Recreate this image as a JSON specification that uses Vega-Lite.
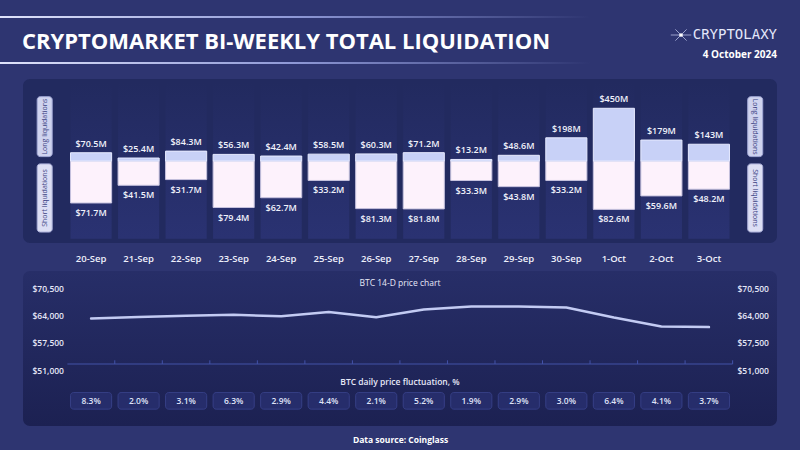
{
  "$schema": "https://vega.github.io/schema/vega-lite/v6.json",
  "background": "#2e3571",
  "padding": {"left": 0, "top": 0, "right": 30, "bottom": 14},
  "spacing": 8,
  "config": {"view": {"stroke": null}, "font": "Open Sans", "axis": {"grid": false}},
  "datasets": {
    "days": [
      {"date": "20-Sep", "long": 70500000, "short": 71700000, "price": 62740, "fluct": 0.083},
      {"date": "21-Sep", "long": 25400000, "short": 41500000, "price": 63140, "fluct": 0.020},
      {"date": "22-Sep", "long": 84300000, "short": 31700000, "price": 63450, "fluct": 0.031},
      {"date": "23-Sep", "long": 56300000, "short": 79400000, "price": 63690, "fluct": 0.063},
      {"date": "24-Sep", "long": 42400000, "short": 62700000, "price": 63310, "fluct": 0.029},
      {"date": "25-Sep", "long": 58500000, "short": 33200000, "price": 64400, "fluct": 0.044},
      {"date": "26-Sep", "long": 60300000, "short": 81300000, "price": 63070, "fluct": 0.021},
      {"date": "27-Sep", "long": 71200000, "short": 81800000, "price": 65050, "fluct": 0.052},
      {"date": "28-Sep", "long": 13200000, "short": 33300000, "price": 65830, "fluct": 0.019},
      {"date": "29-Sep", "long": 48600000, "short": 43800000, "price": 65830, "fluct": 0.029},
      {"date": "30-Sep", "long": 198000000, "short": 33200000, "price": 65600, "fluct": 0.030},
      {"date": "1-Oct", "long": 450000000, "short": 82600000, "price": 63000, "fluct": 0.064},
      {"date": "2-Oct", "long": 179000000, "short": 59600000, "price": 60690, "fluct": 0.041},
      {"date": "3-Oct", "long": 143000000, "short": 48200000, "price": 60520, "fluct": 0.037}
    ]
  },
  "data": {"name": "days"},
  "vconcat": [
    {
      "width": 754,
      "height": 71,
      "data": {"values": [{}]},
      "layer": [
        {
          "mark": {"type": "rect", "fill": {"gradient": "linear", "x1": 0, "y1": 0, "x2": 1, "y2": 0, "stops": [{"offset": 0, "color": "#dfe3fb"}, {"offset": 0.5, "color": "#8e98d6"}, {"offset": 1, "color": "#2e3571"}]}},
          "encoding": {
            "x": {"datum": -0.0305, "type": "quantitative", "scale": {"domain": [0, 1]}, "axis": null},
            "x2": {"datum": 0.752},
            "y": {"datum": 0.2254, "type": "quantitative", "scale": {"domain": [0, 1], "reverse": true}, "axis": null},
            "y2": {"datum": 0.2535}
          }
        },
        {
          "mark": {"type": "rect", "fill": {"gradient": "linear", "x1": 0, "y1": 0, "x2": 1, "y2": 0, "stops": [{"offset": 0, "color": "#dfe3fb"}, {"offset": 0.5, "color": "#8e98d6"}, {"offset": 1, "color": "#2e3571"}]}},
          "encoding": {
            "x": {"datum": -0.0305, "type": "quantitative"},
            "x2": {"datum": 0.752},
            "y": {"datum": 0.873, "type": "quantitative"},
            "y2": {"datum": 0.901}
          }
        },
        {
          "mark": {"type": "text", "align": "left", "baseline": "middle", "dx": -1, "fontSize": 22, "fontWeight": "bold", "fill": "#ffffff"},
          "encoding": {
            "x": {"datum": 0, "type": "quantitative"},
            "y": {"datum": 0.5915, "type": "quantitative"},
            "text": {"value": "CRYPTOMARKET BI-WEEKLY TOTAL LIQUIDATION"}
          }
        },
        {
          "mark": {"type": "point", "shape": "M-1,0L1,0M-0.55,-0.55L0.55,0.55M-0.55,0.55L0.55,-0.55", "filled": false, "stroke": "#c9cff5", "strokeWidth": 1, "size": 420},
          "encoding": {
            "x": {"datum": 0.8727, "type": "quantitative"},
            "y": {"datum": 0.493, "type": "quantitative"}
          }
        },
        {
          "mark": {"type": "point", "shape": "circle", "filled": true, "fill": "#ffffff", "size": 14, "opacity": 1},
          "encoding": {
            "x": {"datum": 0.8727, "type": "quantitative"},
            "y": {"datum": 0.493, "type": "quantitative"}
          }
        },
        {
          "mark": {"type": "text", "align": "right", "baseline": "middle", "font": "DejaVu Sans Mono", "fontSize": 14, "fill": "#e4e7fa"},
          "encoding": {
            "x": {"datum": 1, "type": "quantitative"},
            "y": {"datum": 0.493, "type": "quantitative"},
            "text": {"value": "CRYPTOLAXY"}
          }
        },
        {
          "mark": {"type": "text", "align": "right", "baseline": "middle", "fontSize": 10, "fontWeight": "bold", "fill": "#ffffff"},
          "encoding": {
            "x": {"datum": 1, "type": "quantitative"},
            "y": {"datum": 0.7746, "type": "quantitative"},
            "text": {"value": "4 October 2024"}
          }
        }
      ]
    },
    {
      "width": 754,
      "height": 164,
      "view": {"fill": "#222a5f", "cornerRadius": 7},
      "encoding": {
        "x": {
          "field": "date", "type": "nominal", "sort": null,
          "scale": {"type": "band", "domain": ["20-Sep", "21-Sep", "22-Sep", "23-Sep", "24-Sep", "25-Sep", "26-Sep", "27-Sep", "28-Sep", "29-Sep", "30-Sep", "1-Oct", "2-Oct", "3-Oct"], "paddingInner": 0.135, "paddingOuter": 1.02, "align": 0.5},
          "axis": {"title": null, "ticks": false, "domain": false, "labelAngle": 0, "labelPadding": 10, "labelFontSize": 9.5, "labelFontWeight": 600, "labelColor": "#eef0fb"}
        }
      },
      "layer": [
        {
          "layer": [
            {
              "mark": {"type": "bar", "fill": {"gradient": "linear", "x1": 0, "y1": 0, "x2": 0, "y2": 1, "stops": [{"offset": 0, "color": "#222a5f"}, {"offset": 1, "color": "#2a3272"}]}},
              "encoding": {
                "y": {"datum": 132790000, "type": "quantitative", "scale": {"domain": [-136070000, 132790000], "reverse": true}, "axis": null},
                "y2": {"datum": -136070000}
              }
            },
            {
              "mark": {"type": "bar", "fill": "#fdf2fc", "stroke": "#c6c2de", "strokeWidth": 1},
              "encoding": {
                "y": {"field": "short", "type": "quantitative", "scale": {"domain": [-136070000, 132790000], "reverse": true}, "axis": null},
                "y2": {"datum": 0}
              }
            },
            {
              "mark": {"type": "text", "baseline": "middle", "dy": 10, "fontSize": 9, "fontWeight": 600, "fill": "#f1f2fb"},
              "encoding": {
                "y": {"field": "short", "type": "quantitative", "axis": null},
                "text": {"field": "short", "type": "quantitative", "format": "$.3~s"}
              }
            },
            {
              "data": {"values": [{}]},
              "layer": [
                {
                  "mark": {"type": "bar", "width": 15, "xOffset": -46.4, "cornerRadius": 3, "fill": "#dcdef4", "stroke": "#a9aed8", "strokeWidth": 1},
                  "encoding": {
                    "x": {"datum": "20-Sep", "type": "nominal"},
                    "y": {"datum": 4920000, "type": "quantitative", "axis": null},
                    "y2": {"datum": 121320000}
                  }
                },
                {
                  "mark": {"type": "bar", "width": 15, "xOffset": 46.3, "cornerRadius": 3, "fill": "#dcdef4", "stroke": "#a9aed8", "strokeWidth": 1},
                  "encoding": {
                    "x": {"datum": "3-Oct", "type": "nominal"},
                    "y": {"datum": 4920000, "type": "quantitative", "axis": null},
                    "y2": {"datum": 121320000}
                  }
                },
                {
                  "mark": {"type": "text", "angle": 270, "xOffset": -46.4, "align": "center", "baseline": "middle", "fontSize": 7, "fill": "#3b4283"},
                  "encoding": {
                    "x": {"datum": "20-Sep", "type": "nominal"},
                    "y": {"datum": 63120000, "type": "quantitative", "axis": null},
                    "text": {"value": "Short liquidations"}
                  }
                },
                {
                  "mark": {"type": "text", "angle": 90, "xOffset": 46.3, "align": "center", "baseline": "middle", "fontSize": 7, "fill": "#3b4283"},
                  "encoding": {
                    "x": {"datum": "3-Oct", "type": "nominal"},
                    "y": {"datum": 63120000, "type": "quantitative", "axis": null},
                    "text": {"value": "Short liquidations"}
                  }
                }
              ]
            }
          ]
        },
        {
          "layer": [
            {
              "mark": {"type": "bar", "fill": "#c8d1f7", "stroke": "#e6eaff", "strokeWidth": 1},
              "encoding": {
                "y": {"field": "long", "type": "quantitative", "scale": {"domain": [-609000000, 624100000]}, "axis": null},
                "y2": {"datum": 0}
              }
            },
            {
              "mark": {"type": "text", "baseline": "middle", "dy": -9, "fontSize": 9, "fontWeight": 600, "fill": "#f1f2fb"},
              "encoding": {
                "y": {"field": "long", "type": "quantitative", "axis": null},
                "text": {"field": "long", "type": "quantitative", "format": "$.3~s"}
              }
            },
            {
              "data": {"values": [{}]},
              "layer": [
                {
                  "mark": {"type": "bar", "width": 15, "xOffset": -46.4, "cornerRadius": 3, "fill": "#cfd3ef", "stroke": "#a2a8d6", "strokeWidth": 1},
                  "encoding": {
                    "x": {"datum": "20-Sep", "type": "nominal"},
                    "y": {"datum": 548900000, "type": "quantitative", "axis": null},
                    "y2": {"datum": 37600000}
                  }
                },
                {
                  "mark": {"type": "bar", "width": 15, "xOffset": 46.3, "cornerRadius": 3, "fill": "#cfd3ef", "stroke": "#a2a8d6", "strokeWidth": 1},
                  "encoding": {
                    "x": {"datum": "3-Oct", "type": "nominal"},
                    "y": {"datum": 548900000, "type": "quantitative", "axis": null},
                    "y2": {"datum": 37600000}
                  }
                },
                {
                  "mark": {"type": "text", "angle": 270, "xOffset": -46.4, "align": "center", "baseline": "middle", "fontSize": 7, "fill": "#3b4283"},
                  "encoding": {
                    "x": {"datum": "20-Sep", "type": "nominal"},
                    "y": {"datum": 293300000, "type": "quantitative", "axis": null},
                    "text": {"value": "Long liquidations"}
                  }
                },
                {
                  "mark": {"type": "text", "angle": 90, "xOffset": 46.3, "align": "center", "baseline": "middle", "fontSize": 7, "fill": "#3b4283"},
                  "encoding": {
                    "x": {"datum": "3-Oct", "type": "nominal"},
                    "y": {"datum": 293300000, "type": "quantitative", "axis": null},
                    "text": {"value": "Long liquidations"}
                  }
                }
              ]
            }
          ]
        }
      ],
      "resolve": {"scale": {"y": "independent"}}
    },
    {
      "width": 754,
      "height": 155,
      "view": {"fill": {"gradient": "linear", "x1": 0, "y1": 0, "x2": 0, "y2": 1, "stops": [{"offset": 0, "color": "#272e68"}, {"offset": 1, "color": "#1c2152"}]}, "cornerRadius": 7},
      "encoding": {
        "x": {
          "field": "date", "type": "nominal", "sort": null,
          "scale": {"type": "band", "domain": ["20-Sep", "21-Sep", "22-Sep", "23-Sep", "24-Sep", "25-Sep", "26-Sep", "27-Sep", "28-Sep", "29-Sep", "30-Sep", "1-Oct", "2-Oct", "3-Oct"], "paddingInner": 0.135, "paddingOuter": 1.02, "align": 0.5},
          "axis": {"labels": false, "ticks": false, "domain": false, "title": "Data source: Coinglass", "titlePadding": 9, "titleFontSize": 8.5, "titleFontWeight": "bold", "titleColor": "#ffffff"}
        }
      },
      "layer": [
        {
          "layer": [
            {
              "data": {"values": [{}]},
              "mark": {"type": "rule", "stroke": "#4252a8", "strokeWidth": 1, "xOffset": -23.7, "x2Offset": 23.7},
              "encoding": {
                "x": {"datum": "20-Sep", "type": "nominal"},
                "x2": {"datum": "3-Oct"},
                "y": {"datum": 51000, "type": "quantitative", "scale": {"domain": [37683, 74543]}, "axis": null}
              }
            },
            {
              "mark": {"type": "rule", "stroke": "#4252a8", "strokeWidth": 1, "xOffset": 23.7},
              "encoding": {
                "y": {"datum": 51000, "type": "quantitative", "axis": null},
                "y2": {"datum": 51950}
              }
            },
            {
              "mark": {"type": "line", "stroke": "#c3cbf3", "strokeWidth": 2.5, "strokeCap": "round", "strokeJoin": "round"},
              "encoding": {
                "y": {"field": "price", "type": "quantitative", "axis": null}
              }
            },
            {
              "mark": {"type": "bar", "fill": "#262d6b", "stroke": "#363f86", "strokeWidth": 1, "cornerRadius": 3},
              "encoding": {
                "y": {"datum": 43630, "type": "quantitative", "axis": null},
                "y2": {"datum": 39349}
              }
            },
            {
              "mark": {"type": "text", "baseline": "middle", "fontSize": 8.5, "fontWeight": 600, "fill": "#dfe2f7"},
              "encoding": {
                "y": {"datum": 41370, "type": "quantitative", "axis": null},
                "text": {"field": "fluct", "type": "quantitative", "format": ".1%"}
              }
            },
            {
              "data": {"values": [{}]},
              "mark": {"type": "text", "baseline": "middle", "align": "center", "xOffset": 23.7, "fontSize": 8.5, "fontWeight": 500, "fill": "#e6e8f8"},
              "encoding": {
                "x": {"datum": "26-Sep", "type": "nominal"},
                "y": {"datum": 71927, "type": "quantitative", "axis": null},
                "text": {"value": "BTC 14-D price chart"}
              }
            },
            {
              "data": {"values": [{}]},
              "mark": {"type": "text", "baseline": "middle", "align": "center", "xOffset": 23.7, "fontSize": 8.5, "fontWeight": 600, "fill": "#e6e8f8"},
              "encoding": {
                "x": {"datum": "26-Sep", "type": "nominal"},
                "y": {"datum": 46245, "type": "quantitative", "axis": null},
                "text": {"value": "BTC daily price fluctuation, %"}
              }
            }
          ]
        },
        {
          "mark": {"type": "line", "opacity": 0},
          "encoding": {
            "y": {"field": "price", "type": "quantitative", "scale": {"domain": [37683, 74543]}, "axis": {"orient": "left", "values": [51000, 57500, 64000, 70500], "format": "$,.0f", "labelAlign": "left", "labelBaseline": "middle", "offset": -9, "labelPadding": 0, "tickSize": 0, "ticks": false, "domain": false, "title": null, "labelFontSize": 8.5, "labelFontWeight": 600, "labelColor": "#e5e7f7"}}
          }
        },
        {
          "mark": {"type": "line", "opacity": 0},
          "encoding": {
            "y": {"field": "price", "type": "quantitative", "scale": {"domain": [37683, 74543]}, "axis": {"orient": "right", "values": [51000, 57500, 64000, 70500], "format": "$,.0f", "labelAlign": "left", "labelBaseline": "middle", "offset": -40, "labelPadding": 0, "tickSize": 0, "ticks": false, "domain": false, "title": null, "labelFontSize": 8.5, "labelFontWeight": 600, "labelColor": "#e5e7f7"}}
          }
        }
      ],
      "resolve": {"scale": {"y": "independent"}}
    }
  ]
}
